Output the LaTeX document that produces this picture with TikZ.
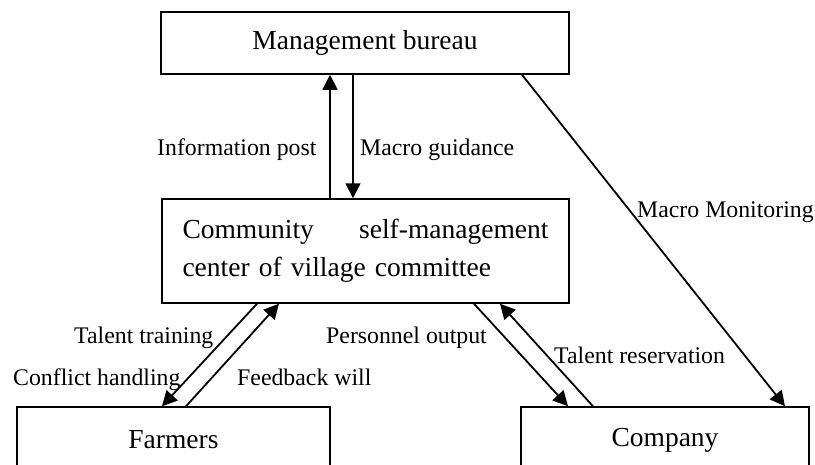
\documentclass[tikz,border=0pt]{standalone}
\usepackage{fontspec}
\setmainfont{Liberation Serif}
\usetikzlibrary{arrows.meta}
\begin{document}
\begin{tikzpicture}[x=1pt,y=-1pt,
 box/.style={draw, line width=1.5pt, inner sep=0pt, font=\fontsize{27.5}{38}\selectfont},
 lbl/.style={inner sep=0pt, anchor=base west, font=\fontsize{23.8}{28}\selectfont},
 conn/.style={line width=1.8pt, -{Triangle[length=15pt,width=15pt]}}]
\useasboundingbox (0,0) rectangle (815,464);
\clip (0,0) rectangle (815,464);
\node[box, minimum width=408pt, minimum height=62pt] (bureau) at (365,43) {Management bureau};
\node[box, minimum width=407pt, minimum height=104pt, text width=366pt, align=left] (comm) at (365.5,251)
  {\hbox to 366pt{Community\hfill self-management}\\center of village committee};
\node[box, minimum width=313pt, minimum height=66pt] (farm) at (173.5,440) {Farmers};
\node[box, minimum width=288pt, minimum height=66pt] (comp) at (665,440) {Company};
% connectors
\draw[conn] ([xshift=-35.5pt]comm.north) -- ([xshift=-35pt]bureau.south);
\draw[conn] ([xshift=-12pt]bureau.south) -- ([xshift=-12.5pt]comm.north);
\draw[conn] ([xshift=157pt]bureau.south) -- ([xshift=120pt]comp.north);
\draw[conn] ([xshift=-108.5pt]comm.south) -- ([xshift=-11.5pt]farm.north);
\draw[conn] ([xshift=12.5pt]farm.north) -- ([xshift=-86.5pt]comm.south);
\draw[conn] ([xshift=108.5pt]comm.south) -- ([xshift=-97pt]comp.north);
\draw[conn] ([xshift=-72pt]comp.north) -- ([xshift=134.5pt]comm.south);
% labels
\node[lbl] (l1) at (157,155) {Information post};
\node[lbl] (l2) at (360,155) {Macro guidance};
\node[lbl] (l3) at (637,217) {Macro Monitoring};
\node[lbl] (l4) at (74,343) {Talent training};
\node[lbl] (l5) at (13,385) {Conflict handling};
\node[lbl] (l6) at (237,385) {Feedback will};
\node[lbl] (l7) at (326,343) {Personnel output};
\node[lbl] (l8) at (554,363) {Talent reservation};
\end{tikzpicture}
\end{document}
